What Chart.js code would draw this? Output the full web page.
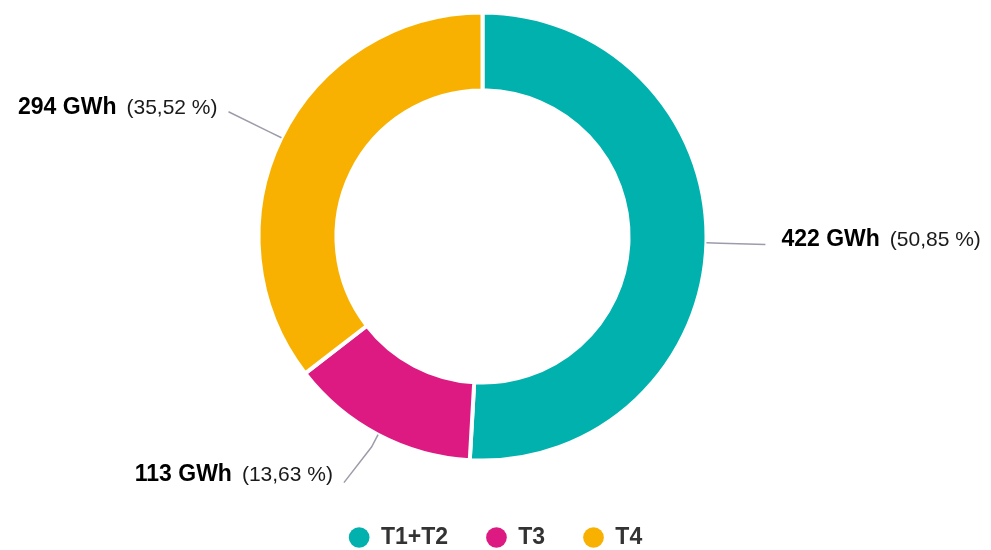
<!DOCTYPE html>
<html>
<head>
<meta charset="utf-8">
<script src="https://cdn.jsdelivr.net/npm/chart.js@4/dist/chart.umd.min.js"></script>
<style>
  html, body { margin: 0; padding: 0; background: #fff; overflow: hidden; width: 991px; height: 550px; }
  #wrap { position: absolute; left: 0; top: -15px; width: 991px; height: 574px; }
</style>
</head>
<body>
<div id="wrap"><canvas id="chart"></canvas></div>
<script>
// données
const categories = ['T1+T2', 'T3', 'T4'];
const energyGWh  = [422, 113, 294];
const shares     = [50.85, 13.63, 35.52];
const colours    = ['#00b1ae', '#dc1a81', '#f8b100'];

const BORDER = 4;
const FONT   = '"Liberation Sans", Arial, Helvetica, sans-serif';

Chart.defaults.font.family = FONT;

// étiquettes avec trait de rappel, calculées depuis les arcs
const sliceLabels = {
    id: 'sliceLabels',
    afterDatasetsDraw(chart) {
        const ctx  = chart.ctx;
        const meta = chart.getDatasetMeta(0);
        meta.data.forEach((arc, i) => {
            const p   = arc.getProps(['x', 'y', 'startAngle', 'endAngle', 'outerRadius'], true);
            const mid = (p.startAngle + p.endAngle) / 2;
            const cos = Math.cos(mid), sin = Math.sin(mid);
            const r0  = p.outerRadius - BORDER / 2 + 2;
            // coude pour les étiquettes du bas
            const bend = sin > 0.5 ? 0.175 : 0;
            const x0 = p.x + cos * r0, y0 = p.y + sin * r0;
            const xb = p.x + cos * (r0 + 14), yb = p.y + sin * (r0 + 14);
            const x1 = xb + Math.cos(mid + bend) * 45;
            const y1 = yb + Math.sin(mid + bend) * 45;

            ctx.save();
            ctx.strokeStyle = '#9c9cab';
            ctx.lineWidth = 1.5;
            ctx.beginPath();
            ctx.moveTo(x0, y0);
            ctx.lineTo(xb, yb);
            ctx.lineTo(x1, y1);
            ctx.stroke();

            const bold = `${energyGWh[i]} GWh`;
            const pct  = `(${shares[i].toFixed(2).replace('.', ',')} %)`;
            const boldFont = `bold 23px ${FONT}`;
            const regFont  = `21px ${FONT}`;
            ctx.font = boldFont;
            const wb = ctx.measureText(bold).width;
            ctx.font = regFont;
            const wp = ctx.measureText(pct).width;
            const space = 10;

            const tx = cos >= 0 ? x1 + 16 : x1 - 11 - (wb + space + wp);
            const ty = y1 + 2 - 4 * Math.max(0, sin);
            ctx.textAlign = 'left';
            ctx.textBaseline = 'alphabetic';
            ctx.fillStyle = '#000';
            ctx.font = boldFont;
            ctx.fillText(bold, tx, ty);
            ctx.fillStyle = '#1a1a1a';
            ctx.font = regFont;
            ctx.fillText(pct, tx + wb + space, ty);
            ctx.restore();
        });
    }
};

// légende recentrée sur la page (le donut est décalé à gauche)
const shiftLegend = {
    id: 'shiftLegend',
    afterLayout(chart) {
        const lg = chart.legend;
        lg.left  += 13;
        lg.right += 13;
    }
};

new Chart(document.getElementById('chart'), {
    type: 'doughnut',
    data: {
        labels: categories,
        datasets: [{
            data: energyGWh,
            backgroundColor: colours,
            borderColor: '#ffffff',
            borderWidth: BORDER,
            hoverOffset: 0
        }]
    },
    options: {
        responsive: true,
        maintainAspectRatio: false,
        animation: false,
        radius: 224,
        cutout: '65.2%',
        layout: { padding: { left: 0, right: 26, top: 0, bottom: 0 } },
        plugins: {
            tooltip: { enabled: false },
            legend: {
                position: 'bottom',
                labels: {
                    usePointStyle: true,
                    pointStyle: 'circle',
                    boxHeight: 14.6,
                    pointStyleWidth: 20.7,
                    padding: 38,
                    color: '#333333',
                    font: { size: 23, weight: 'bold', family: FONT },
                    generateLabels(chart) {
                        return Chart.overrides.doughnut.plugins.legend.labels
                            .generateLabels(chart)
                            .map(item => ({ ...item, lineWidth: 0 }));
                    }
                }
            }
        }
    },
    plugins: [sliceLabels, shiftLegend]
});
</script>
</body>
</html>
